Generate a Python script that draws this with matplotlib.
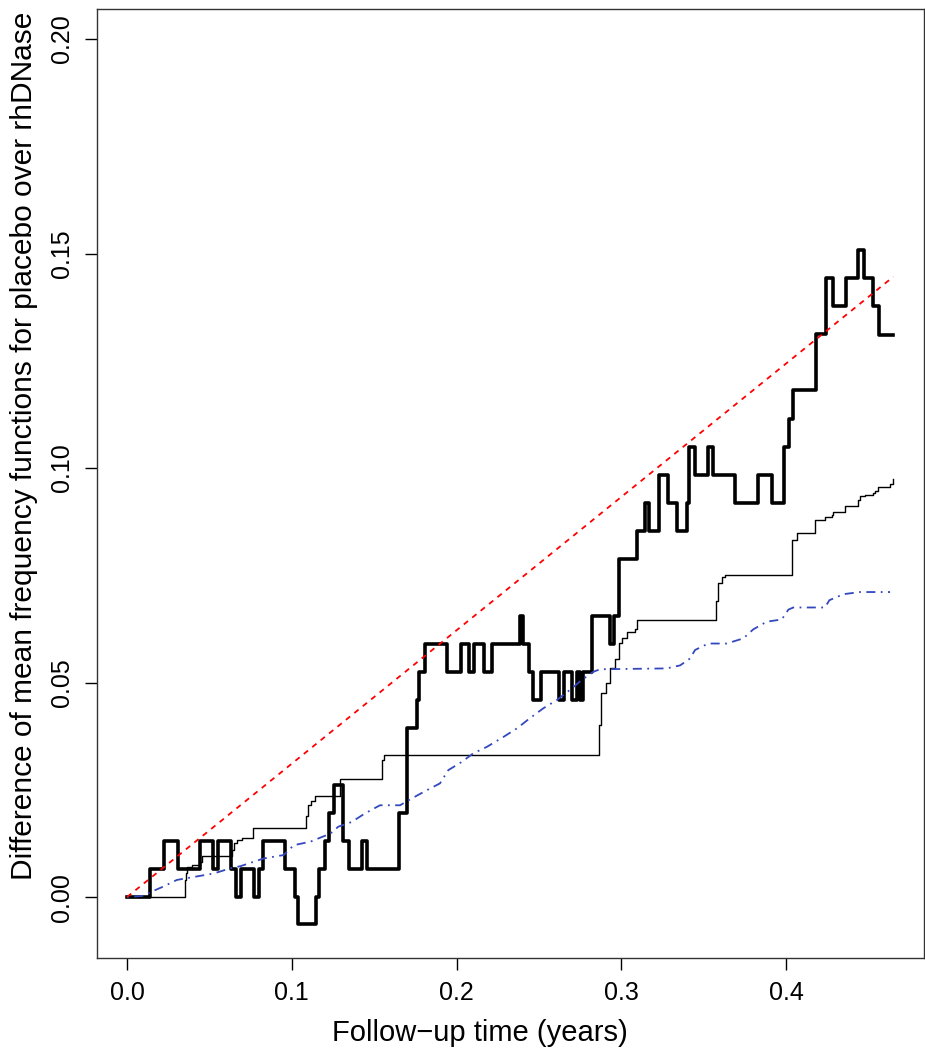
import matplotlib
matplotlib.use('Agg')
import matplotlib.pyplot as plt

# observed difference (thick step line)
t_obs = [0.0, 0.0141, 0.0222, 0.0311, 0.0441, 0.0522, 0.0550, 0.0633, 0.0660, 0.0692,
         0.0769, 0.0801, 0.0825, 0.0961, 0.1022, 0.1038, 0.1147, 0.1163, 0.1204, 0.1228,
         0.1254, 0.1313, 0.1349, 0.1428, 0.1458, 0.1650, 0.1697, 0.1758, 0.1774, 0.1808,
         0.1944, 0.2025, 0.2077, 0.2106, 0.2166, 0.2217, 0.2385, 0.2405, 0.2439, 0.2466,
         0.2512, 0.2623, 0.2654, 0.2698, 0.2733, 0.2749, 0.2765, 0.2820, 0.2931, 0.2955,
         0.2987, 0.3097, 0.3145, 0.3169, 0.3226, 0.3285, 0.3335, 0.3396, 0.3412, 0.3447,
         0.3524, 0.3554, 0.3689, 0.3831, 0.3912, 0.3989, 0.4019, 0.4039, 0.4181, 0.4242,
         0.4284, 0.4363, 0.4436, 0.4472, 0.4527, 0.4563, 0.4650]
v_obs = [0.0, 0.0066, 0.0131, 0.0066, 0.0131, 0.0066, 0.0131, 0.0066, 0.0, 0.0066,
         0.0, 0.0066, 0.0131, 0.0066, 0.0, -0.0062, 0.0, 0.0066, 0.0131, 0.0197,
         0.0262, 0.0131, 0.0066, 0.0131, 0.0066, 0.0197, 0.0394, 0.0459, 0.0525, 0.0590,
         0.0525, 0.0590, 0.0525, 0.0590, 0.0525, 0.0590, 0.0656, 0.0590, 0.0525, 0.0459,
         0.0525, 0.0459, 0.0525, 0.0459, 0.0525, 0.0459, 0.0525, 0.0656, 0.0590, 0.0656,
         0.0787, 0.0853, 0.0918, 0.0853, 0.0984, 0.0918, 0.0853, 0.0918, 0.1050, 0.0984,
         0.1050, 0.0984, 0.0918, 0.0984, 0.0918, 0.1050, 0.1115, 0.1181, 0.1312, 0.1443,
         0.1378, 0.1443, 0.1509, 0.1443, 0.1378, 0.1310, 0.1310]

# thin step line
t_thin = [0.0, 0.0350, 0.0358, 0.0364, 0.0393, 0.0440, 0.0455, 0.0637, 0.0650, 0.0670,
          0.0700, 0.0765, 0.1088, 0.1100, 0.1115, 0.1140, 0.1290, 0.1545, 0.1560, 0.2866,
          0.2874, 0.2907, 0.2931, 0.2961, 0.2987, 0.3002, 0.3032, 0.3083, 0.3097, 0.3574,
          0.3584, 0.3608, 0.3629, 0.4033, 0.4067, 0.4175, 0.4189, 0.4235, 0.4276, 0.4286,
          0.4357, 0.4438, 0.4448, 0.4478, 0.4529, 0.4539, 0.4559, 0.4630, 0.4650]
v_thin = [0.0, 0.0040, 0.0057, 0.0069, 0.0074, 0.0082, 0.0095, 0.0110, 0.0125, 0.0134,
          0.0137, 0.0160, 0.0190, 0.0214, 0.0223, 0.0235, 0.0275, 0.0320, 0.0331, 0.0400,
          0.0476, 0.0498, 0.0533, 0.0554, 0.0593, 0.0605, 0.0618, 0.0624, 0.0647, 0.0690,
          0.0731, 0.0745, 0.0751, 0.0832, 0.0848, 0.0879, 0.0880, 0.0887, 0.0890, 0.0898,
          0.0911, 0.0925, 0.0935, 0.0937, 0.0941, 0.0947, 0.0956, 0.0963, 0.0975]

# blue dot-dash curve
t_blue = [0.0, 0.0101, 0.0152, 0.0223, 0.0303, 0.0526, 0.0627, 0.0688, 0.0829, 0.0951,
          0.1012, 0.1112, 0.1234, 0.1282, 0.1363, 0.1444, 0.1535, 0.1657, 0.1728, 0.1819,
          0.1899, 0.1950, 0.2031, 0.2101, 0.2183, 0.2283, 0.2365, 0.2445, 0.2526, 0.2607,
          0.2688, 0.2759, 0.2829, 0.2870, 0.3275, 0.3356, 0.3416, 0.3447, 0.3527, 0.3639,
          0.3740, 0.3800, 0.3882, 0.3973, 0.4013, 0.4043, 0.4235, 0.4262, 0.4347, 0.4448,
          0.4630]
v_blue = [0.0, 0.0003, 0.0013, 0.0025, 0.0040, 0.0055, 0.0067, 0.0072, 0.0090, 0.0098,
          0.0121, 0.0129, 0.0148, 0.0164, 0.0175, 0.0195, 0.0214, 0.0214, 0.0230, 0.0249,
          0.0265, 0.0296, 0.0315, 0.0335, 0.0350, 0.0373, 0.0393, 0.0417, 0.0440, 0.0459,
          0.0483, 0.0506, 0.0525, 0.0531, 0.0533, 0.0540, 0.0556, 0.0576, 0.0591, 0.0591,
          0.0603, 0.0624, 0.0642, 0.0647, 0.0670, 0.0675, 0.0675, 0.0692, 0.0706, 0.0711,
          0.0711]

# red dashed reference line
t_red = [0.0, 0.4650]
v_red = [0.0, 0.1446]

x_ticks = [0.0, 0.1, 0.2, 0.3, 0.4]
x_labels = ['0.0', '0.1', '0.2', '0.3', '0.4']
y_ticks = [0.0, 0.05, 0.10, 0.15, 0.20]
y_labels = ['0.00', '0.05', '0.10', '0.15', '0.20']

plt.rcParams['font.family'] = ['Liberation Sans', 'DejaVu Sans']

fig = plt.figure(figsize=(9.25, 10.5), dpi=100)
ax = fig.add_axes([97 / 925, 1 - 958 / 1050, 827 / 925, 949 / 1050])

ax.plot(t_obs, v_obs, drawstyle='steps-post', color='black', lw=2.6)
ax.plot(t_thin, v_thin, drawstyle='steps-post', color='black', lw=1.0)
ax.plot(t_blue, v_blue, color='#3448bd', lw=1.3, linestyle=(0, (1, 3, 5, 3)))
ax.plot(t_red, v_red, color='red', lw=1.3, linestyle=(0, (3, 3)))

ax.set_xlim(-0.0182, 0.4836)
ax.set_ylim(-0.0142, 0.2070)

ax.set_xticks(x_ticks)
ax.set_xticklabels(x_labels)
ax.set_yticks(y_ticks)
ax.set_yticklabels(y_labels, rotation=90, va='center')
ax.tick_params(direction='out', length=8.5, width=1, labelsize=18, pad=8)

for s in ax.spines.values():
    s.set_linewidth(1.0)
    s.set_color('#333333')

ax.set_xlabel('Follow\u2212up time (years)', fontsize=21, va='center')
ax.xaxis.set_label_coords(0.463, -0.079)
ax.set_ylabel('Difference of mean frequency functions for placebo over rhDNase',
              fontsize=21.5, va='center')
ax.yaxis.set_label_coords(-0.088, 0.54)

plt.savefig('out.png', dpi=100)
plt.close()
